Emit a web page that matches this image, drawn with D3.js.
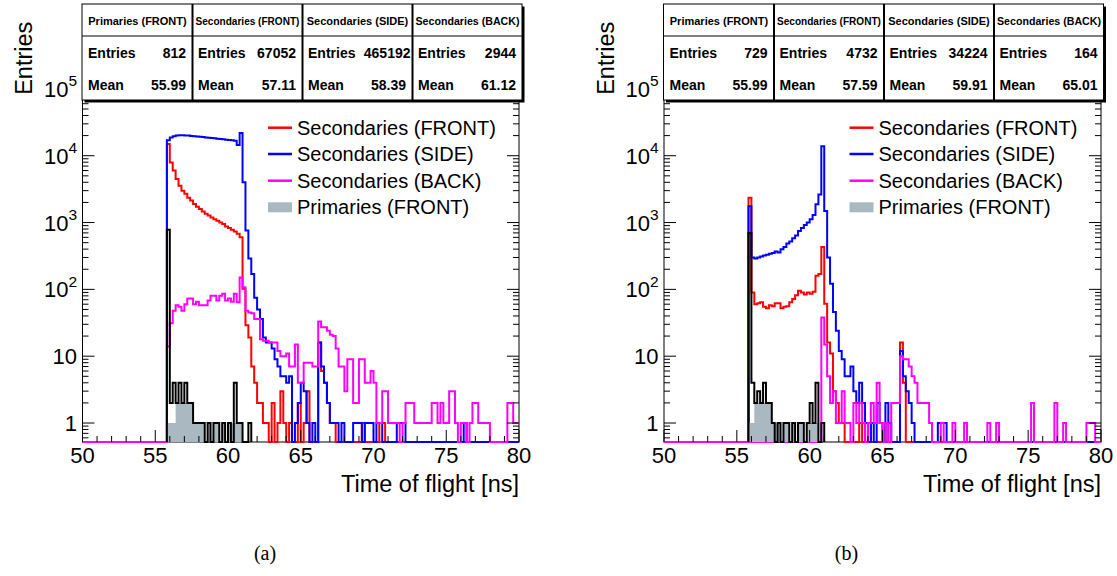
<!DOCTYPE html>
<html><head><meta charset="utf-8">
<script src="https://cdn.jsdelivr.net/npm/d3@7"></script>
<style>body{margin:0;background:#fff;} svg{display:block;font-family:"Liberation Sans",Arial,Helvetica,sans-serif;}</style>
</head><body><svg id="c" width="1117" height="576"></svg>
<script>
// ---------------- data ----------------
const binStart = 55.8, binWidth = 0.2;
const xDomain = [50, 80];
const yDomain = [0.52, 1.8e6];
const xMajorTicks = [50, 55, 60, 65, 70, 75, 80];
const yMajorTicks = [1, 10, 100, 1000, 10000, 100000];

const statTitles = ["Primaries (FRONT)", "Secondaries (FRONT)", "Secondaries (SIDE)", "Secondaries (BACK)"];
const entriesA = ["812", "67052", "465192", "2944"];
const meansA = ["55.99", "57.11", "58.39", "61.12"];
const entriesB = ["729", "4732", "34224", "164"];
const meansB = ["55.99", "57.59", "59.91", "65.01"];

const legendLabels = ["Secondaries (FRONT)", "Secondaries (SIDE)", "Secondaries (BACK)", "Primaries (FRONT)"];
const seriesColors = ["#ff0000", "#0000ff", "#ff00ff", "#aab8c2"];
const captions = ["(a)", "(b)"];
const xTitle = "Time of flight [ns]";
const yTitle = "Entries";

// bins of 0.2 ns starting at 55.8 ns
const secFrontA = [
15000,7900,6000,4500,3550,3000,2700,2350,2130,1900,
1720,1590,1460,1350,1270,1190,1120,1060,1000,950,
870,830,780,735,680,600,102,29,19,7,
4,2,2,1,1,0,2,0,1,3,
1,0,1,0,0,2,0,1,3,0,
0,0,16,6,4,2,1,1,0,0,
0,0,0,0,0,0,0,1,0,0,
0,0,0,1,1,0,0,0,0,0];
const secSideA = [
17000,18800,19600,20000,20200,20200,20100,20000,19800,19600,
19400,19200,19000,18800,18600,18400,18200,18000,17800,17600,
17400,17200,17000,16800,14500,21900,4000,760,290,170,
75,50,36,19,16,16,13,9,7,5,
5,4,5,0,1,2,4,3,1,0,
1,0,16,7,4,2,1,1,1,0,
1,0,0,0,1,1,1,0,1,1,
1,0,1,1,0,0,0,0,0,1,
1,1,0,0,0,0,0,0,0,0,
0,0,0,0,0,0,0,0,0,0,
0,0,1];
const secBackA = [
14,31,48,58,55,48,60,73,73,60,
65,58,58,58,68,80,80,68,80,86,
68,73,65,86,64,150,108,48,45,44,
36,36,18,17,17,16,16,16,12,10,
10,11,7,7,15,4,4,8,8,8,
7,7,33,27,27,24,21,20,13,7,
7,3,9,9,2,2,9,9,4,4,
6,4,1,1,3,3,1,1,1,1,
0,1,2,2,2,1,1,1,1,1,
1,2,2,1,2,1,1,3,3,1,
0,1,1,0,1,2,2,1,1,1,
1,0,0,0,0,0,0,2,2,1,1];
const primLineA = [780,2,4,2,4,2,4,2,2,1, 1,1,1,0,1,0,1,1,0,1, 0,1,0,4,1,1,0,0,1];
const primFillA = [1,1,1,2,2,2,2,2,2,1, 1,1,1,0,1,0,1,1,0,1, 0,1,1,1,1,1];

const secFrontB = [
2340,90,60,62,64,55,52,58,56,62,
62,52,55,56,64,72,82,95,90,84,
90,86,92,160,170,430,61,16,11,3,
2,1,1,0,0,0,0,0,1,0,
0,1,0,0,0,0,0,1,0,0,
0,0,16,4];
const secSideB = [
1750,300,290,300,310,320,330,340,350,370,
357,400,430,486,520,583,640,750,830,921,
1000,1120,1300,1870,2630,13800,1490,300,121,46,
24,12,9,5,5,7,3,2,4,2,
1,0,1,0,2,1,0,2,1,0,
0,0,12,5,3,2,1,0,0,0,
0,0,0,0,0,1,1,1];
const secBackB = [
0,0,0,0,0,0,0,0,0,0,
0,0,0,0,0,0,0,0,0,0,
0,0,0,0,0,38,15,5,2,3,
1,1,3,1,1,0,2,1,2,1,
0,1,2,1,4,1,0,1,0,2,
2,2,10,9,9,7,5,4,2,2,
2,2,1,0,0,0,1,0,0,0,
1,0,0,0,1,0,0,0,0,0,
0,0,1,0,0,1,0,0,0,0,
0,0,0,0,0,0,0,2,0,0,
0,0,0,0,0,2,0,0,1,0,
0,0,0,0,0,0,1,1,1,0,0];
const primLineB = [700,4,2,3,2,4,2,2,1,0, 1,0,1,1,0,1,0,1,1,0, 1,2,1,4,0,1];
const primFillB = [1,1,2,2,2,2,2,2,1,1, 1,0,1,1,0,1,0,1,1,0, 1,1,1,1];

// ---------------- drawing ----------------
const svg = d3.select("#c");
const FONT = '"Liberation Sans",Arial,Helvetica,sans-serif';

function drawPanel(idx, left, right, series, entries, means) {
  const top = 5, bottom = 442;
  const x = d3.scaleLinear().domain(xDomain).range([left, right]);
  const y = d3.scaleLog().domain(yDomain).range([bottom, top]);
  const yc = v => y(Math.max(v, yDomain[0]));
  const g = svg.append("g");

  // frame
  g.append("rect").attr("x", left).attr("y", top).attr("width", right - left).attr("height", bottom - top)
    .attr("fill", "none").attr("stroke", "#000").attr("stroke-width", 1);

  const clipId = "clip" + idx;
  g.append("clipPath").attr("id", clipId).append("rect")
    .attr("x", left - 1).attr("y", top).attr("width", right - left + 2).attr("height", bottom - top + 2);
  const hg = g.append("g").attr("clip-path", `url(#${clipId})`);

  const edge = i => x(binStart + i * binWidth);
  const nBins = Math.round((xDomain[1] - binStart) / binWidth);

  function fullPath(vals) {
    let p = `M${x(xDomain[0])},${bottom}H${edge(0)}`;
    for (let i = 0; i < nBins; i++) {
      const v = i < vals.length ? vals[i] : 0;
      p += `V${yc(v)}H${edge(i + 1)}`;
    }
    return p;
  }
  function rangePath(vals) {
    let first = vals.findIndex(v => v > 0);
    let last = vals.length - 1; while (last > 0 && !(vals[last] > 0)) last--;
    let p = `M${edge(first)},${bottom}`;
    for (let i = first; i <= last; i++) p += `V${yc(vals[i])}H${edge(i + 1)}`;
    p += `V${bottom}`;
    return p;
  }

  const [front, side, back, primLine, primFill] = series;
  hg.append("path").attr("d", fullPath(front)).attr("fill", "none").attr("stroke", seriesColors[0]).attr("stroke-width", 2);
  hg.append("path").attr("d", fullPath(side)).attr("fill", "none").attr("stroke", seriesColors[1]).attr("stroke-width", 2);
  hg.append("path").attr("d", fullPath(back)).attr("fill", "none").attr("stroke", seriesColors[2]).attr("stroke-width", 2);
  hg.append("path").attr("d", rangePath(primFill) + "Z").attr("fill", seriesColors[3]).attr("stroke", "none");
  hg.append("path").attr("d", rangePath(primLine)).attr("fill", "none").attr("stroke", "#000").attr("stroke-width", 2);

  // x ticks
  const tg = g.append("g").attr("stroke", "#000").attr("stroke-width", 1);
  d3.range(xDomain[0], xDomain[1] + 1, 1).forEach(t => {
    const len = xMajorTicks.includes(t) ? 12 : 6;
    tg.append("line").attr("x1", x(t)).attr("x2", x(t)).attr("y1", bottom).attr("y2", bottom - len);
  });
  // y ticks
  for (let n = -1; n <= 6; n++) {
    for (let m = 1; m <= 9; m++) {
      const v = m * Math.pow(10, n);
      if (v < yDomain[0] || v > yDomain[1]) continue;
      const len = m === 1 ? 12 : 6;
      const yy = y(v);
      tg.append("line").attr("x1", left).attr("x2", left + len).attr("y1", yy).attr("y2", yy);
      tg.append("line").attr("x1", right).attr("x2", right - len).attr("y1", yy).attr("y2", yy);
    }
  }

  // x tick labels
  xMajorTicks.forEach(t => {
    g.append("text").attr("x", x(t)).attr("y", 463).attr("text-anchor", "middle")
      .attr("font-size", 22).attr("font-family", FONT).text(t);
  });
  // y tick labels
  yMajorTicks.forEach(v => {
    const t = g.append("text").attr("x", left - 5.5).attr("y", y(v) + 8).attr("text-anchor", "end")
      .attr("font-size", 22).attr("font-family", FONT);
    const e = Math.round(Math.log10(v));
    if (e <= 1) t.text(String(v));
    else {
      t.append("tspan").text("10");
      t.append("tspan").attr("font-size", 15.5).attr("dy", -10.5).text(String(e));
    }
  });

  // axis titles
  g.append("text").attr("x", right).attr("y", 492).attr("text-anchor", "end")
    .attr("font-size", 23.5).attr("font-family", FONT).text(xTitle);
  g.append("text").attr("transform", `translate(${left - 50.5},21.7) rotate(-90)`).attr("text-anchor", "end")
    .attr("font-size", 23.5).attr("font-family", FONT).text(yTitle);

  // legend
  const rows = [127.7, 154, 180.7, 207.3];
  legendLabels.forEach((lab, i) => {
    const ry = rows[i];
    if (i < 3) {
      g.append("line").attr("x1", left + 185.5).attr("x2", left + 209.5).attr("y1", ry).attr("y2", ry)
        .attr("stroke", seriesColors[i]).attr("stroke-width", 2.5);
    } else {
      g.append("rect").attr("x", left + 185.5).attr("y", ry - 5).attr("width", 24).attr("height", 10)
        .attr("fill", seriesColors[3]);
    }
    g.append("text").attr("x", left + 214.5).attr("y", ry + 7).attr("font-size", 20)
      .attr("font-family", FONT).text(lab);
  });

  // stat boxes
  const bx0 = left - 0.5, bw = 110, bt = 4, bb = 100, bmid = 36;
  g.append("rect").attr("x", bx0 + 2.5).attr("y", bt + 2.5).attr("width", 4 * bw).attr("height", bb - bt).attr("fill", "#000");
  g.append("rect").attr("x", bx0).attr("y", bt).attr("width", 4 * bw).attr("height", bb - bt)
    .attr("fill", "#fff").attr("stroke", "#000").attr("stroke-width", 1);
  g.append("line").attr("x1", bx0).attr("x2", bx0 + 4 * bw).attr("y1", bmid).attr("y2", bmid)
    .attr("stroke", "#000").attr("stroke-width", 1);
  for (let i = 1; i < 4; i++) {
    g.append("line").attr("x1", bx0 + i * bw + 0.5).attr("x2", bx0 + i * bw + 0.5).attr("y1", bt).attr("y2", bb)
      .attr("stroke", "#000").attr("stroke-width", 2);
  }
  statTitles.forEach((title, i) => {
    const bx = bx0 + i * bw;
    const ht = g.append("text").attr("x", bx + bw / 2 + 0.5).attr("y", 24.5).attr("text-anchor", "middle")
      .attr("font-size", 11).attr("font-weight", "bold").attr("font-family", FONT).text(title);
    const wlen = ht.node().getComputedTextLength();
    if (wlen > 104) ht.attr("font-size", 11 * 104 / wlen);
    [["Entries", entries[i], 58], ["Mean", means[i], 90]].forEach(([lab, val, yy]) => {
      const lt = g.append("text").attr("x", bx + 6).attr("y", yy).attr("font-size", 14).attr("font-weight", "bold")
        .attr("font-family", FONT).text(lab);
      const vt = g.append("text").attr("x", bx + bw - 6).attr("y", yy).attr("text-anchor", "end").attr("font-size", 14)
        .attr("font-weight", "bold").attr("font-family", FONT).text(val);
      const lw = lt.node().getComputedTextLength(), vw = vt.node().getComputedTextLength();
      if (lw + vw + 8 > bw - 12) vt.attr("x", bx + bw - 1.5);
    });
  });

  // caption
  g.append("text").attr("x", left + 182.5).attr("y", 560).attr("text-anchor", "middle")
    .attr("font-size", 20).attr("font-family", '"Liberation Serif","Times New Roman",serif').text(captions[idx]);
}

drawPanel(0, 82.5, 519, [secFrontA, secSideA, secBackA, primLineA, primFillA], entriesA, meansA);
drawPanel(1, 664, 1101, [secFrontB, secSideB, secBackB, primLineB, primFillB], entriesB, meansB);
</script></body></html>
